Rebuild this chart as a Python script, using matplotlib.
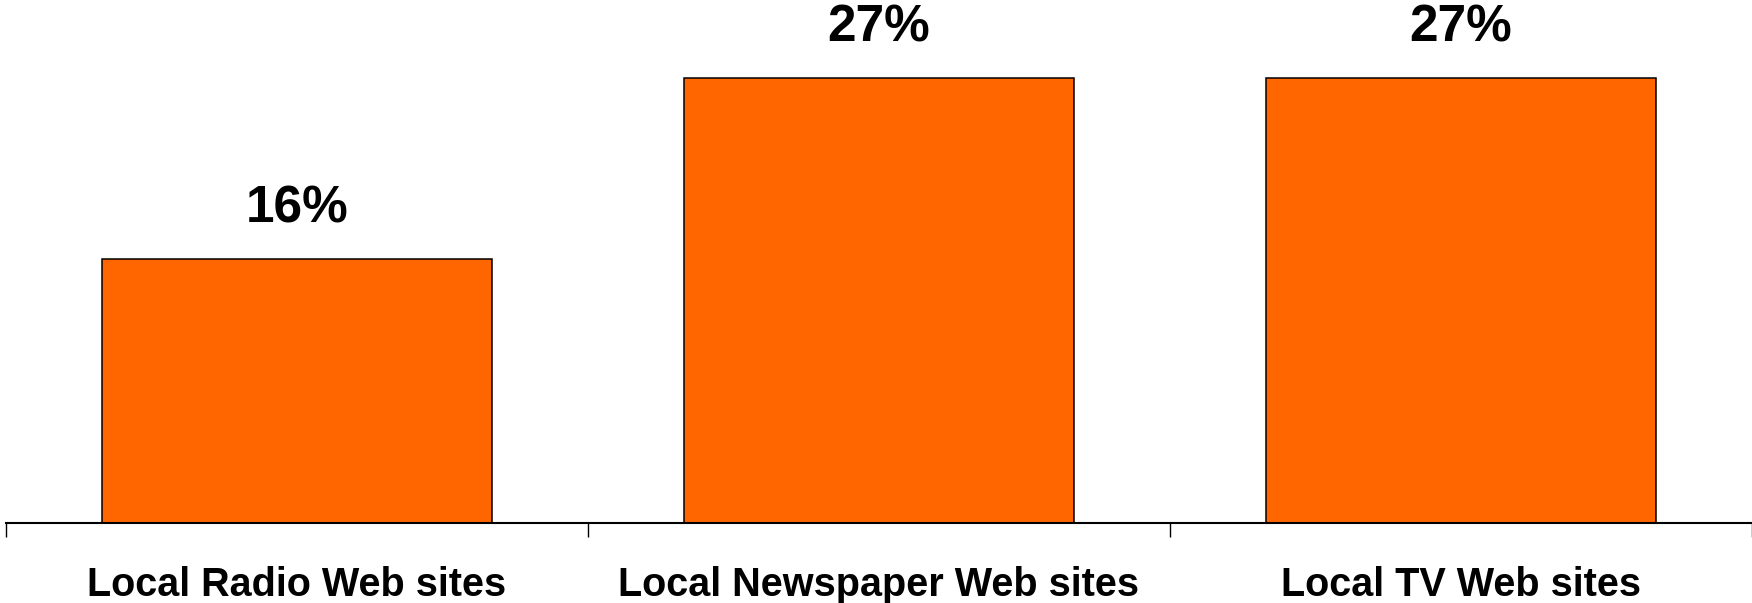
import numpy as np
import matplotlib.pyplot as plt

categories = ['Local Radio Web sites', 'Local Newspaper Web sites', 'Local TV Web sites']
values = [16, 27, 27]
value_labels = ['16%', '27%', '27%']

plt.rcParams['font.family'] = ['Liberation Sans', 'DejaVu Sans']

fig = plt.figure(figsize=(17.52, 6.03), dpi=100)
ax = fig.add_axes([6 / 1752, 80 / 603, 1 - 6 / 1752, 523 / 603])

x = np.arange(len(categories))
ax.bar(x, values, width=0.67, color='#FF6600', edgecolor='black', linewidth=1.1)

for xi, v, lab in zip(x, values, value_labels):
    ax.annotate(lab, (xi, v), xytext=(0, 36), textcoords='offset points',
                ha='center', va='center', fontsize=37, fontweight='bold')

ax.set_xlim(-0.5, 2.5)
ax.set_ylim(0, 27 * 523 / 445)

ax.set_xticks(x)
ax.set_xticklabels(categories, fontsize=28.5, fontweight='bold')
ax.tick_params(axis='x', which='major', length=0, pad=31)
ax.set_xticks(np.arange(-0.5, 3, 1), minor=True)
ax.tick_params(axis='x', which='minor', length=10, width=1.0, direction='out')
ax.set_yticks([])

for s in ['left', 'right', 'top']:
    ax.spines[s].set_visible(False)
ax.spines['bottom'].set_linewidth(1.5)

fig.savefig('out.png', dpi=100)
